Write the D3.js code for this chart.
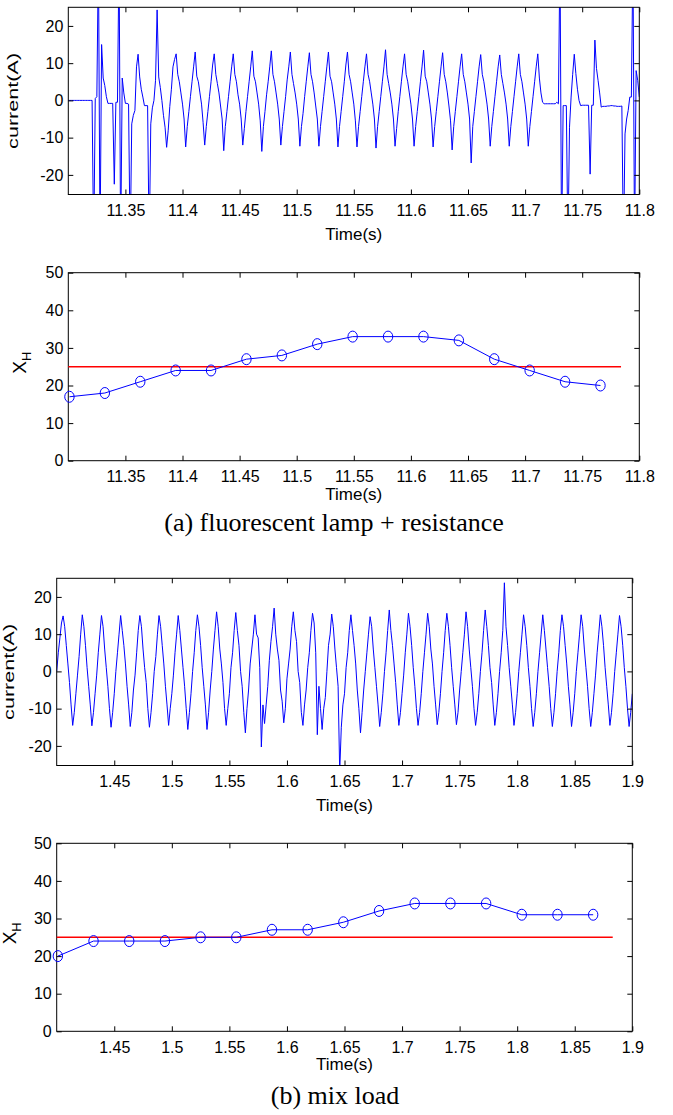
<!DOCTYPE html>
<html>
<head>
<meta charset="utf-8">
<script src="https://cdn.jsdelivr.net/npm/d3@7/dist/d3.min.js"></script>
<style>
  body { margin: 0; background: #fff; }
  svg text { font-family: "Liberation Sans", Arial, sans-serif; }
</style>
</head>
<body>
<div id="chart"></div>
<script>
// ---- data ----

// both current traces are sampled every 1/720 s
var dt = 1 / 720;

// (a) fluorescent lamp + resistance, current (A) from t = 11.3 s
var tStartA = 11.3;
var currentA = [
  0, 0, 0, 0, 0, 0, 0, 0, 0, 0, 0, 0, 0, 0, 0, 0,
  -40, 0.5, 1, 40, -40, 15, 6, 4, 1, -0.8, -0.8, -0.8, -0.8, -22.5,
  -0.5, -0.5, 40, -40, 6, 2, -0.8, -0.8, -1, -40, -6.3, -4, -2.7, 9,
  12.4, 6.3, 3, 0.9, -1.4, -1.4, -1.4, -40, -6.3, -2, 0, 5.4, 24.3,
  6.3, 3.5, 0, -4, -7.2, -12.6, -8, -1.6, 3, 9, 11,
  12.5, 7, 5, 2, -1, -5, -12.5, -7, -3, 1, 5, 9,
  13, 6.5, 5, 2, -1, -6, -12, -7, -3, 1, 5, 9.5,
  12.5, 7, 4.5, 2, -1.5, -5, -13.5, -7, -3, 1, 5, 9,
  12.5, 7, 5, 1.5, -1, -5, -12, -7.5, -3, 1, 5, 9,
  13.3, 6.5, 5, 2, -1, -5.5, -13.7, -7, -3, 1.5, 5, 9,
  13.3, 7, 5, 2, -1, -5, -12, -7, -3, 1, 5.5, 9,
  13, 7, 4.5, 2, -1, -5, -12.3, -7, -3.5, 1, 5, 9,
  12.8, 7, 5, 2, -1.5, -5, -12.3, -7, -3, 1, 5, 9,
  13, 6.5, 5, 2, -1, -5, -12.5, -7, -3, 1, 5, 9.5,
  13, 7, 5, 2, -1, -5.5, -12.5, -7, -3, 1, 5, 9,
  12.5, 7, 5, 2, -1, -5, -12.8, -7, -3, 1, 5, 9,
  13.6, 7, 4.5, 2, -1, -5, -12.3, -7.5, -3, 1, 5, 9,
  12.5, 7, 5, 2, -1, -5, -12.3, -7, -3, 1, 5, 9,
  13.5, 6.5, 5, 2, -1, -5, -12.5, -7, -3, 1, 5, 9,
  12.8, 7, 5, 2, -1.5, -5.5, -13.3, -7, -3, 1, 5, 9,
  12.5, 7, 5, 2, -1, -5, -16.8, -7, -3, 1, 5, 9,
  12.3, 7, 5, 2, -1, -5, -12.3, -7, -3, 1, 5, 9,
  12.2, 7, 4.5, 2, -1, -5, -12.3, -7, -3, 1, 5, 9,
  12.5, 7, 5, 2, -1, -5, -12.3, -7, -3, 1, 5, 9,
  12.5, 6, 2, -0.5, -0.9, -0.9, -0.9, -0.9, -0.9, -0.9, -0.9, -0.9,
  -0.5, -0.9, 40, -40, -1.4, -1.4, -1.4, -40, -7.2, 0.9, 7, 12.4,
  7.2, 3, 0, -1.4, -1.3, -1.3, -1.3, -1.3, -1.3, -19.8, -1.3, -1.3,
  16.2, 8.6, 5.4, 2, -1.8, -1.6, -1.6, -1.6, -1.5, -1.5, -1.4, -1.4, -1.5,
  -1.5, -1.6, -1.6, -1.6, -1.5, -40, -9, -5, -2.7, 0.9, 0.9, 40, -40, 8, 5.4, 0.9
];

// (b) mix load, current (A) from t = 1.4 s
var tStartB = 1.4;
var currentB = [
  0, 5, 9, 13,
  14.9, 12, 7, 2, -3, -9, -14.5, -11, -6, -1, 4, 10,
  15.2, 12, 7, 1, -4, -9, -14.6, -11, -6, -1, 5, 10,
  15, 12, 6, 1, -4, -10, -15, -11, -6, 0, 5, 10,
  15, 11, 7, 2, -4, -9, -14.8, -11, -5, -1, 5, 11,
  15, 12, 6, 1, -3, -10, -15, -11, -6, 0, 4, 10,
  15, 12, 7, 2, -4, -9, -14.5, -10, -6, -1, 5, 10,
  15, 11, 6, 1, -4, -10, -15.6, -11, -6, 0, 5, 11,
  15.2, 12, 7, 1, -4, -9, -15.6, -11, -5, 0, 6, 11,
  16, 12, 6, 2, -3, -10, -14.5, -10, -6, 1, 5, 11,
  15.8, 11, 7, 0, -4, -11, -16.5, -10, -5, 2, 6, 10,
  15.2, 10, 9, 1, -20.3, -9, -14, -9, -4, 3, 8, 12,
  17, 10, 6, 3, -5, -8, -13.8, -10, -2, 2, 6, 12,
  16, 11, 8, 0, -3, -11, -14.5, -9, -5, 1, 5, 11,
  15.6, 13, 5, -17, -4, -10, -15.6, -10, -7, 0, 7, 10,
  15.4, 12, 6, 1, -4, -27, -15, -9, -6, 1, 5, 11,
  15.2, 11, 7, 2, -5, -10, -16.5, -11, -5, 0, 5, 10,
  14.7, 12, 6, 1, -4, -9, -14.8, -11, -6, 0, 5, 11,
  16.5, 11, 7, 2, -3, -9, -14.5, -11, -6, -1, 5, 10,
  15.6, 12, 7, 1, -4, -10, -14.5, -11, -6, 0, 5, 10,
  15.6, 12, 6, 2, -4, -9, -14.3, -11, -6, 0, 5, 11,
  15.6, 12, 7, 1, -4, -9, -14.3, -11, -5, 0, 5, 10,
  16, 12, 6, 1, -4, -10, -14.5, -11, -6, 0, 5, 11,
  16.5, 12, 7, 1, -3, -9, -14.5, -11, -6, 0, 5, 11,
  23.8, 12, 7, 1, -4, -9, -14.5, -11, -6, 0, 5, 10,
  15.2, 12, 7, 1, -4, -10, -14.8, -11, -6, 0, 5, 10,
  15.2, 11, 6, 1, -4, -10, -14.8, -11, -6, 0, 5, 11,
  15.2, 12, 7, 2, -4, -9, -14.8, -11, -6, 0, 5, 10,
  15.2, 12, 6, 1, -4, -10, -14.8, -11, -6, -1, 5, 10,
  15.2, 12, 7, 1, -4, -9, -14.5, -11, -6, 0, 5, 10,
  15, 12, 7, 1, -4, -10, -14.8, -11, -6
];

// X_H index per window
var timeXA = [11.301, 11.332, 11.363, 11.394, 11.425, 11.456, 11.487, 11.518,
              11.549, 11.580, 11.611, 11.642, 11.673, 11.704, 11.735, 11.766];
var xhA = [17, 18, 21, 24, 24, 27, 28, 31, 33, 33, 33, 32, 27, 24, 21, 20];
var timeXB = [1.401, 1.432, 1.463, 1.494, 1.525, 1.556, 1.587, 1.618,
              1.649, 1.680, 1.711, 1.742, 1.773, 1.804, 1.835, 1.866];
var xhB = [20, 24, 24, 24, 25, 25, 27, 27, 29, 32, 34, 34, 34, 31, 31, 31];

// red threshold line
var threshold = 25;
var thresholdEndA = 11.784;
var thresholdEndB = 1.883;

// ticks
var xTicksA = [11.35, 11.4, 11.45, 11.5, 11.55, 11.6, 11.65, 11.7, 11.75, 11.8];
var xTicksB = [1.45, 1.5, 1.55, 1.6, 1.65, 1.7, 1.75, 1.8, 1.85, 1.9];
var yTicksCurrent = [-20, -10, 0, 10, 20];
var yTicksXH = [0, 10, 20, 30, 40, 50];

// ---- drawing ----
var svg = d3.select("#chart").append("svg")
    .attr("width", 673)
    .attr("height", 1115);

var blue = "#0000ff";

// box + inside ticks on all four sides, labels bottom and left
function frame(box, x, y, xTicks, yTicks, xLabelGap) {
  var fmt = function(d) { return String(d); };
  var g = svg.append("g");

  g.append("g")
      .attr("transform", "translate(0," + box.bottom + ")")
      .call(d3.axisBottom(x).tickValues(xTicks).tickFormat(fmt)
        .tickSizeInner(-5).tickSizeOuter(0).tickPadding(10));
  g.append("g")
      .attr("transform", "translate(0," + box.top + ")")
      .call(d3.axisTop(x).tickValues(xTicks).tickFormat("")
        .tickSizeInner(-5).tickSizeOuter(0));
  g.append("g")
      .attr("transform", "translate(" + box.left + ",0)")
      .call(d3.axisLeft(y).tickValues(yTicks).tickFormat(fmt)
        .tickSizeInner(-5).tickSizeOuter(0).tickPadding(5));
  g.append("g")
      .attr("transform", "translate(" + box.right + ",0)")
      .call(d3.axisRight(y).tickValues(yTicks).tickFormat("")
        .tickSizeInner(-5).tickSizeOuter(0));

  g.selectAll(".domain").remove();
  g.selectAll(".tick line").attr("stroke", "#000");
  g.selectAll(".tick text")
      .attr("font-size", 16)
      .attr("font-family", "Liberation Sans, Arial, sans-serif")
      .attr("fill", "#000");

  g.append("rect")
      .attr("x", box.left)
      .attr("y", box.top)
      .attr("width", box.right - box.left)
      .attr("height", box.bottom - box.top)
      .attr("fill", "none")
      .attr("stroke", "#000")
      .attr("stroke-width", 1);

  g.append("text")
      .attr("x", (box.left + box.right) / 2)
      .attr("y", box.bottom + xLabelGap)
      .attr("text-anchor", "middle")
      .style("font-size", "17px")
      .text("Time(s)");
}

function currentPanel(id, box, xDomain, t0, values, xTicks, labelX) {
  var x = d3.scaleLinear().domain(xDomain).range([box.left, box.right]);
  var y = d3.scaleLinear().domain([-25, 25]).range([box.bottom - 1, box.top]);

  svg.append("clipPath").attr("id", id)
    .append("rect")
      .attr("x", box.left).attr("y", box.top)
      .attr("width", box.right - box.left)
      .attr("height", box.bottom - box.top);

  var line = d3.line()
      .x(function(d, i) { return x(t0 + i * dt); })
      .y(function(d) { return y(d); });

  svg.append("path")
      .datum(values)
      .attr("clip-path", "url(#" + id + ")")
      .attr("d", line)
      .attr("fill", "none")
      .attr("stroke", blue)
      .attr("stroke-width", 1);

  frame(box, x, y, xTicks, yTicksCurrent, 45);

  // the ylabel is drawn long and thin in the figure
  svg.append("text")
      .attr("transform", "translate(" + labelX + "," + ((box.top + box.bottom) / 2) + ") rotate(-90)")
      .attr("text-anchor", "middle")
      .attr("textLength", 96)
      .attr("lengthAdjust", "spacingAndGlyphs")
      .style("font-size", "14px")
      .text("current(A)");
}

function xhPanel(box, xDomain, times, values, endT, xTicks, labelX) {
  var x = d3.scaleLinear().domain(xDomain).range([box.left, box.right]);
  var y = d3.scaleLinear().domain([0, 50]).range([box.bottom, box.top]);

  frame(box, x, y, xTicks, yTicksXH, 39);

  // threshold
  svg.append("line")
      .attr("x1", x(xDomain[0])).attr("x2", x(endT))
      .attr("y1", y(threshold)).attr("y2", y(threshold))
      .attr("stroke", "#ff0000")
      .attr("stroke-width", 1.5);

  var pts = times.map(function(t, i) { return [t, values[i]]; });

  svg.append("path")
      .datum(pts)
      .attr("d", d3.line()
        .x(function(d) { return x(d[0]); })
        .y(function(d) { return y(d[1]); }))
      .attr("fill", "none")
      .attr("stroke", blue)
      .attr("stroke-width", 1);

  // markers look a little taller than wide in the figure
  svg.selectAll(null)
      .data(pts)
    .enter().append("ellipse")
      .attr("cx", function(d) { return x(d[0]); })
      .attr("cy", function(d) { return y(d[1]); })
      .attr("rx", 4.7)
      .attr("ry", 5.5)
      .attr("fill", "none")
      .attr("stroke", blue)
      .attr("stroke-width", 1);

  var lab = svg.append("text")
      .attr("transform", "translate(" + labelX + "," + ((box.top + box.bottom) / 2 - 4) + ") rotate(-90)")
      .attr("text-anchor", "middle")
      .style("font-size", "19px");
  lab.append("tspan").text("X");
  lab.append("tspan").attr("dy", 5).style("font-size", "13px").text("H");
}

function caption(text, cx, baseY) {
  svg.append("text")
      .attr("x", cx)
      .attr("y", baseY)
      .attr("text-anchor", "middle")
      .style("font-family", "Liberation Serif, Times New Roman, serif")
      .style("font-size", "26px")
      .text(text);
}

// (a)
currentPanel("clipA", {left: 68.3, right: 639.3, top: 7.3, bottom: 194.5},
  [11.3, 11.8], tStartA, currentA, xTicksA, 18);
xhPanel({left: 68.3, right: 639.3, top: 272.7, bottom: 460.7},
  [11.3, 11.8], timeXA, xhA, thresholdEndA, xTicksA, 26);
caption("(a) fluorescent lamp + resistance", 334, 531);

// (b)
currentPanel("clipB", {left: 56.7, right: 632.3, top: 578.3, bottom: 765.5},
  [1.4, 1.9], tStartB, currentB, xTicksB, 14);
xhPanel({left: 56.7, right: 632.3, top: 843.3, bottom: 1031.3},
  [1.4, 1.9], timeXB, xhB, thresholdEndB, xTicksB, 16);
caption("(b) mix load", 335, 1104);
</script>
</body>
</html>
